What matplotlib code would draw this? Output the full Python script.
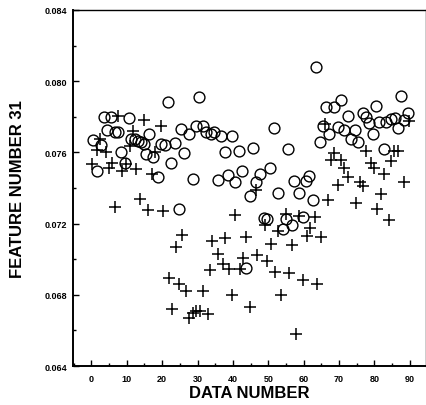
import matplotlib
matplotlib.use("Agg")
import matplotlib.pyplot as plt
from matplotlib.ticker import MultipleLocator, FormatStrFormatter

# Circles (series 1)
circle_x = [0.5, 1.6, 2.8, 3.5, 4.3, 5.6, 6.6, 7.5, 8.5, 9.4, 10.6, 11.3, 12.2, 13.2, 14.1,
            15.0, 15.5, 16.4, 17.4, 18.8, 19.7, 20.7, 21.6, 22.6, 23.5, 24.8, 25.4, 26.3,
            27.6, 28.8, 29.7, 30.5, 31.6, 32.5, 33.9, 34.6, 35.8, 36.7, 37.7, 38.6, 39.6,
            40.5, 41.7, 42.7, 43.8, 44.7, 45.7, 46.6, 47.6, 48.7, 49.6, 50.4, 51.5, 52.7,
            54.1, 54.9, 55.5, 56.8, 57.4, 58.6, 59.8, 60.7, 61.6, 62.6, 63.5, 64.5, 65.4,
            66.4, 67.3, 68.7, 69.6, 70.6, 71.5, 72.5, 73.4, 74.5, 75.3, 76.7, 77.6, 78.6,
            79.5, 80.5, 81.4, 82.6, 83.3, 84.7, 85.8, 86.6, 87.5, 88.4, 89.6]
circle_y = [0.07671, 0.07495, 0.07641, 0.07796, 0.07727, 0.07796, 0.07712, 0.07712, 0.07600,
            0.07540, 0.07791, 0.07678, 0.07675, 0.07665, 0.07656, 0.07646, 0.07590, 0.07703,
            0.07572, 0.07459, 0.07646, 0.07641, 0.07881, 0.07540, 0.07652, 0.07281, 0.07731,
            0.07596, 0.07703, 0.07453, 0.07746, 0.07909, 0.07746, 0.07712, 0.07703, 0.07712,
            0.07446, 0.07693, 0.07600, 0.07472, 0.07693, 0.07435, 0.07609, 0.07497, 0.06953,
            0.07356, 0.07622, 0.07431, 0.07478, 0.07230, 0.07225, 0.07510, 0.07735, 0.07371,
            0.07168, 0.07225, 0.07618, 0.07193, 0.07440, 0.07371, 0.07238, 0.07440, 0.07468,
            0.07333, 0.08081, 0.07661, 0.07750, 0.07853, 0.07703, 0.07853, 0.07744, 0.07894,
            0.07725, 0.07806, 0.07675, 0.07725, 0.07661, 0.07819, 0.07800, 0.07765, 0.07703,
            0.07862, 0.07768, 0.07618, 0.07768, 0.07787, 0.07793, 0.07736, 0.07918, 0.07781,
            0.07819]

# Pluses (series 2)
plus_x = [0.1, 1.7, 2.3, 4.1, 5.1, 5.9, 6.6, 7.6, 8.7, 9.8, 10.9, 11.7, 12.6, 13.6, 14.8,
          16.0, 17.0, 18.0, 19.8, 20.2, 21.9, 22.7, 23.8, 24.7, 25.7, 26.8, 27.6, 28.8,
          29.7, 30.6, 31.6, 33.0, 33.6, 34.2, 35.8, 37.2, 37.7, 38.9, 39.6, 40.7, 41.9,
          42.9, 43.8, 44.7, 46.8, 46.6, 49.0, 49.6, 50.7, 51.8, 52.7, 53.7, 54.9, 55.8,
          56.8, 57.9, 58.8, 59.8, 61.0, 61.7, 63.1, 63.8, 64.8, 65.9, 66.8, 67.8, 68.7,
          69.6, 70.6, 71.5, 72.5, 74.8, 75.8, 76.7, 77.6, 79.0, 80.0, 80.7, 81.9, 82.8,
          84.0, 84.7, 85.6, 86.6, 88.4, 89.8]
plus_y = [0.07534, 0.07615, 0.07678, 0.07603, 0.07515, 0.07538, 0.07294, 0.07802, 0.07497,
          0.07534, 0.07637, 0.07722, 0.07506, 0.07337, 0.07783, 0.07275, 0.07478, 0.07600,
          0.07750, 0.07272, 0.06893, 0.06719, 0.07069, 0.06859, 0.07137, 0.06822, 0.06672,
          0.06700, 0.06709, 0.06709, 0.06822, 0.06694, 0.06938, 0.07103, 0.07032, 0.06972,
          0.07118, 0.06944, 0.06797, 0.07249, 0.06944, 0.07005, 0.07125, 0.06732, 0.07024,
          0.07390, 0.07191, 0.06990, 0.07088, 0.06930, 0.07159, 0.06797, 0.07253, 0.06925,
          0.07079, 0.06582, 0.07243, 0.06882, 0.07131, 0.07178, 0.07238, 0.06863, 0.07122,
          0.07759, 0.07332, 0.07557, 0.07594, 0.07418, 0.07557, 0.07515, 0.07459, 0.07318,
          0.07431, 0.07412, 0.07609, 0.07543, 0.07512, 0.07281, 0.07365, 0.07478, 0.07219,
          0.07553, 0.07609, 0.07609, 0.07431, 0.07778]

x_label = "DATA NUMBER"
y_label = "FEATURE NUMBER 31"

plt.rcParams['font.family'] = ['Liberation Sans', 'DejaVu Sans']
plt.rcParams['font.weight'] = 'bold'

fig = plt.figure(figsize=(4.27, 4.06), dpi=100)
ax = fig.add_axes([0.171, 0.096, 0.826, 0.877])

ax.plot(circle_x, circle_y, linestyle='none', marker='o', markersize=7.8,
        markerfacecolor='none', markeredgecolor='black', markeredgewidth=1.0)
ax.plot(plus_x, plus_y, linestyle='none', marker='+', markersize=8.5,
        color='black', markeredgewidth=1.1)

ax.set_xlim(-5.2, 94.5)
ax.set_ylim(0.064, 0.084)
ax.xaxis.set_major_locator(MultipleLocator(10))
ax.xaxis.set_minor_locator(MultipleLocator(5))
ax.yaxis.set_major_locator(MultipleLocator(0.004))
ax.yaxis.set_minor_locator(MultipleLocator(0.002))
ax.yaxis.set_major_formatter(FormatStrFormatter('%.3f'))

ax.tick_params(which='both', direction='in', top=False, right=False)
ax.tick_params(which='major', length=4, width=1.0)
ax.tick_params(which='minor', length=2, width=1.0)
ax.tick_params(axis='x', labelsize=6.5, pad=6)
ax.tick_params(axis='y', labelsize=6.5, pad=4)
for lab in ax.get_xticklabels() + ax.get_yticklabels():
    lab.set_fontweight('bold')

for side in ['left', 'bottom']:
    ax.spines[side].set_linewidth(1.4)
for side in ['right', 'top']:
    ax.spines[side].set_linewidth(1.0)

ax.set_xlabel(x_label, fontsize=12, fontweight='bold', labelpad=1)
ax.set_ylabel(y_label, fontsize=12, fontweight='bold', labelpad=14)

fig.savefig('out.png', dpi=100)
